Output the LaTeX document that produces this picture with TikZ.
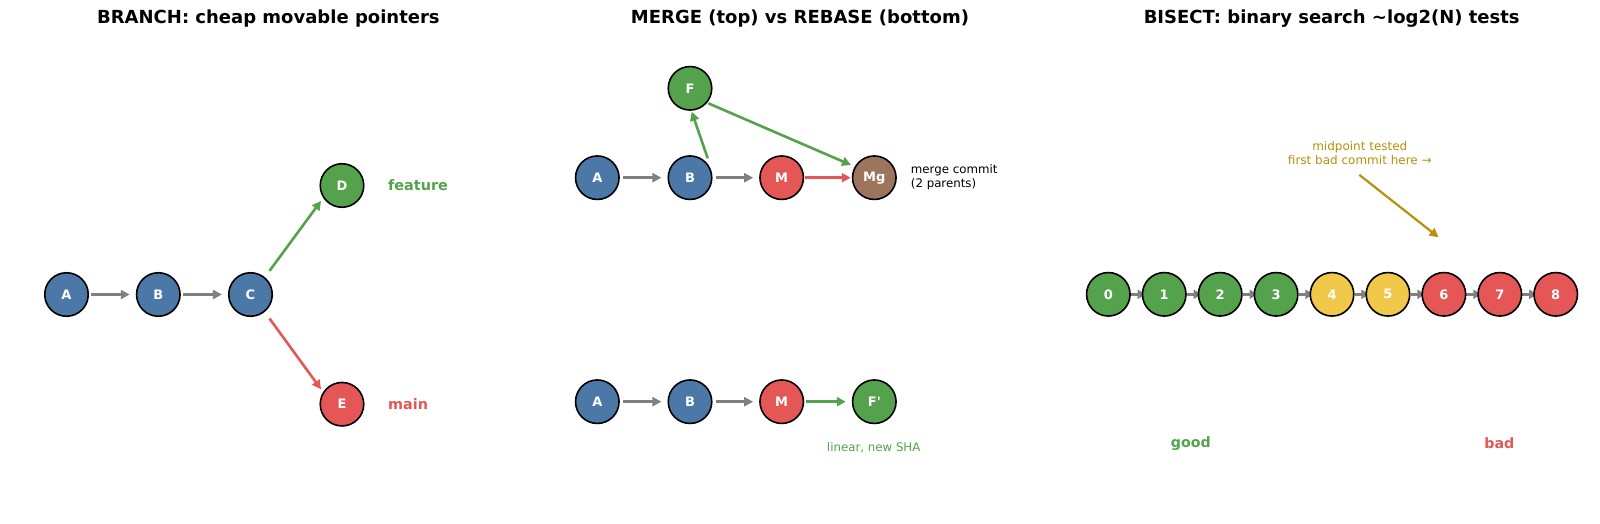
\documentclass[tikz,border=0pt]{standalone}
\usepackage{fontspec}
\setmainfont{DejaVu Sans}
\usetikzlibrary{arrows.meta,calc}
\pgfdeclarelayer{background}
\pgfsetlayers{background,main}
\definecolor{cblue}{HTML}{4C78A8}
\definecolor{cgreen}{HTML}{54A24B}
\definecolor{cred}{HTML}{E45756}
\definecolor{cbrown}{HTML}{9D755D}
\definecolor{cyellow}{HTML}{F0C94A}
\definecolor{cgold}{HTML}{B8900B}
\definecolor{cgray}{HTML}{808080}
\tikzset{
  commit/.style={circle, draw=black, line width=1.6pt, minimum size=43.5pt, inner sep=0pt,
    text=white, font=\fontsize{13}{13}\selectfont\bfseries},
  edge/.style={line width=2.6pt, -{Triangle[length=9pt,width=9pt]}},
  smalledge/.style={line width=3pt, cgray, -{Triangle[length=8pt,width=9pt]}},
  paneltitle/.style={font=\fontsize{18}{20}\selectfont\bfseries, inner sep=0pt},
  branchlabel/.style={font=\fontsize{14.4}{16}\selectfont\bfseries, anchor=west, inner sep=0pt},
  note/.style={font=\fontsize{11.8}{14}\selectfont, inner sep=0pt},
}
\begin{document}
\begin{tikzpicture}[x=1pt,y=-1pt]
\useasboundingbox (0,0) rectangle (1600,524);

% ---------- titles ----------
\node[paneltitle] (t1) at (268.4,18.4) {BRANCH: cheap movable pointers};
\node[paneltitle] (t2) at (800,18.4) {MERGE (top) vs REBASE (bottom)};
\node[paneltitle] (t3) at (1331.7,18.4) {BISECT: binary search \textasciitilde log2(N) tests};

% ---------- BRANCH ----------
\node[commit, fill=cblue] (A) at (66.5,294.5) {A};
\node[commit, fill=cblue] (B) at (158.3,294.5) {B};
\node[commit, fill=cblue] (C) at (250.5,294.5) {C};
\node[commit, fill=cgreen] (D) at (342,185.5) {D};
\node[commit, fill=cred] (E) at (342,404.2) {E};
\node[branchlabel, text=cgreen] (feat) at (388,185.5) {feature};
\node[branchlabel, text=cred] (mainl) at (388,404.2) {main};
\draw[edge, cgray, shorten <=2pt, shorten >=6pt] (A) -- (B);
\draw[edge, cgray, shorten <=2pt, shorten >=6pt] (B) -- (C);
\draw[edge, cgreen] ($(C)+(19,-23.6)$) -- ($(D)+(-21,15.4)$);
\draw[edge, cred] ($(C)+(19,24)$) -- ($(E)+(-21,-15)$);

% ---------- MERGE ----------
\node[commit, fill=cblue] (mA) at (597.3,177.7) {A};
\node[commit, fill=cblue] (mB) at (690,177.7) {B};
\node[commit, fill=cred] (mM) at (781.7,177.7) {M};
\node[commit, fill=cbrown] (mMg) at (874.3,177.7) {Mg};
\node[commit, fill=cgreen] (mF) at (690,88.3) {F};
\node[note, anchor=west, align=left] (mnote) at (910.7,177.7) {merge commit\\(2 parents)};
\draw[edge, cgray, shorten <=3pt, shorten >=6pt] (mA) -- (mB);
\draw[edge, cgray, shorten <=3pt, shorten >=6pt] (mB) -- (mM);
\draw[edge, cred, shorten <=0.5pt, shorten >=1pt] (mM) -- (mMg);
\draw[edge, cgreen] ($(mB)+(17.7,-19.4)$) -- ($(mF)+(1.7,23.4)$);
\draw[edge, cgreen] ($(mF)+(18.3,15)$) -- ($(mMg)+(-23.3,-12.7)$);

% ---------- REBASE ----------
\node[commit, fill=cblue] (rA) at (597.3,401.7) {A};
\node[commit, fill=cblue] (rB) at (690,401.7) {B};
\node[commit, fill=cred] (rM) at (781.7,401.7) {M};
\node[commit, fill=cgreen] (rF) at (874.3,401.7) {F\textquotesingle};
\node[note, text=cgreen] (rnote) at (873.7,447.3) {linear, new SHA};
\draw[edge, cgray, shorten <=3pt, shorten >=6pt] (rA) -- (rB);
\draw[edge, cgray, shorten <=3pt, shorten >=6pt] (rB) -- (rM);
\draw[edge, cgreen, shorten <=2pt, shorten >=6pt] (rM) -- (rF);

% ---------- BISECT ----------
\foreach \i/\c in {0/cgreen,1/cgreen,2/cgreen,3/cgreen,4/cyellow,5/cyellow,6/cred,7/cred,8/cred}
  \node[commit, fill=\c] (b\i) at ({1108.3+55.93*\i},294.3) {\i};
\begin{pgfonlayer}{background}
\foreach \i [evaluate=\i as \j using int(\i+1)] in {0,...,7}
  \draw[smalledge, shorten >=-4pt] (b\i) -- (b\j);
\end{pgfonlayer}
\node[note, text=cgold, align=center, font=\fontsize{12}{14}\selectfont] (mid) at (1359.8,153) {midpoint tested\\first bad commit here →};
\draw[edge, cgold, line width=2.2pt] ($(mid.south)+(-0.5,10)$) -- ($(b6)+(-5.3,-57)$);
\node[font=\fontsize{14.2}{16}\selectfont\bfseries, text=cgreen, inner sep=0pt] (good) at (1190.8,443.5) {good};
\node[font=\fontsize{14.2}{16}\selectfont\bfseries, text=cred, inner sep=0pt] (bad) at (1499.3,443.5) {bad};
\end{tikzpicture}
\end{document}
